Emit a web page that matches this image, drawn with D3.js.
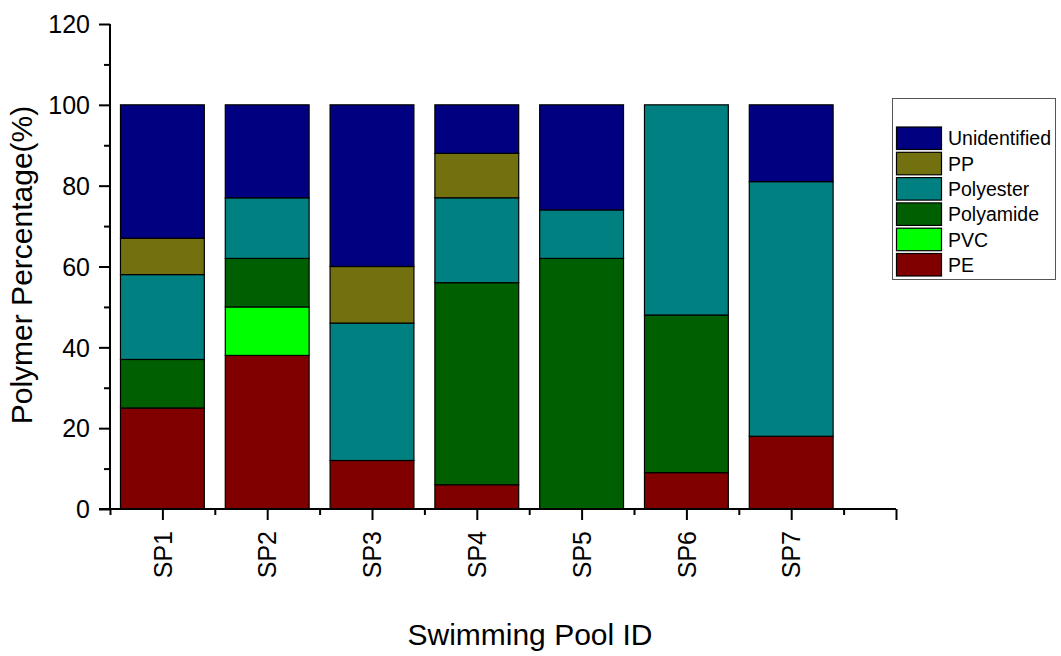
<!DOCTYPE html>
<html><head><meta charset="utf-8">
<script src="https://cdn.jsdelivr.net/npm/d3@7"></script>
<style>body{margin:0;background:#fff}svg{display:block}text{font-family:"Liberation Sans",Arial,sans-serif}</style>
</head><body>
<svg id="c" width="1061" height="656"></svg>
<script>
const categories = ["SP1","SP2","SP3","SP4","SP5","SP6","SP7"];
const seriesNames = ["PE","PVC","Polyamide","Polyester","PP","Unidentified"];
const PE = [25,38,12,6,0,9,18];
const PVC = [0,12,0,0,0,0,0];
const Polyamide = [12,12,0,50,62,39,0];
const Polyester = [21,15,34,21,12,52,63];
const PP = [9,0,14,11,0,0,0];
const Unidentified = [33,23,40,12,26,0,19];
const yTicks = [0,20,40,60,80,100,120];
const colors = {PE:"#800000",PVC:"#00ff00",Polyamide:"#005f00",Polyester:"#008080",PP:"#73700f",Unidentified:"#000080"};
const seriesVals = {PE,PVC,Polyamide,Polyester,PP,Unidentified};

const svg = d3.select("#c");
const x = d3.scaleLinear().domain([0.5,8]).range([110,896]);
const y = d3.scaleLinear().domain([0,120]).range([509,24]);

const rows = categories.map((c,i)=>{const r={cat:c,idx:i+1};seriesNames.forEach(s=>r[s]=seriesVals[s][i]);return r;});
const stack = d3.stack().keys(seriesNames)(rows);
const bw = (x(2)-x(1))*0.8;

stack.forEach(layer=>{
  svg.append("g").selectAll("rect").data(layer.filter(d=>d[1]-d[0]>0)).join("rect")
    .attr("x",d=>x(d.data.idx)-bw/2).attr("width",bw)
    .attr("y",d=>y(d[1])).attr("height",d=>y(d[0])-y(d[1]))
    .attr("fill",colors[layer.key]).attr("stroke","#000").attr("stroke-width",1.2);
});

// y axis
const yAxis = svg.append("g").attr("transform","translate(110,0)");
yAxis.call(d3.axisLeft(y).tickValues(yTicks).tickSize(11).tickFormat(d3.format("d")));
yAxis.append("g").call(d3.axisLeft(y).tickValues(d3.range(10,120,20)).tickSize(6).tickFormat(""));
yAxis.selectAll("path.domain").attr("stroke-width",2).attr("d","M0,"+y(120)+"V"+y(0));
yAxis.selectAll(".tick line").attr("stroke-width",2);
yAxis.selectAll("text").attr("font-size",25).attr("fill","#000").attr("x",-20).attr("dy","0.35em");

// x axis
const xAxis = svg.append("g").attr("transform","translate(0,509)");
xAxis.call(d3.axisBottom(x).tickValues(d3.range(1,9)).tickSize(11).tickFormat(d=>categories[d-1]||""));
xAxis.append("g").call(d3.axisBottom(x).tickValues(d3.range(0.5,8,1)).tickSize(6).tickFormat(""));
xAxis.selectAll("path.domain").attr("stroke-width",2).attr("d","M99,0H896");
xAxis.selectAll(".tick line").attr("stroke-width",2);
xAxis.selectAll(".tick text").attr("font-size",25).attr("fill","#000")
  .attr("transform","rotate(-90)").attr("text-anchor","end").attr("x",-22).attr("y",0).attr("dy","0.35em");

// titles
svg.append("text").attr("x",530).attr("y",645).attr("text-anchor","middle").attr("font-size",30).text("Swimming Pool ID");
svg.append("text").attr("transform","translate(32,265) rotate(-90)").attr("text-anchor","middle").attr("font-size",30).text("Polymer Percentage(%)");

// legend
const lg = svg.append("g");
lg.append("rect").attr("x",892.5).attr("y",98.5).attr("width",163).attr("height",181).attr("fill","#fff").attr("stroke","#555").attr("stroke-width",1);
const legOrder = ["Unidentified","PP","Polyester","Polyamide","PVC","PE"];
legOrder.forEach((s,i)=>{
  const yy = 127 + i*25.3;
  lg.append("rect").attr("x",896.5).attr("y",yy).attr("width",45).attr("height",22.5).attr("fill",colors[s]).attr("stroke","#000").attr("stroke-width",1.2);
  lg.append("text").attr("x",948).attr("y",yy+11.5).attr("dy","0.35em").attr("font-size",19.5).text(s);
});
</script>
</body></html>
